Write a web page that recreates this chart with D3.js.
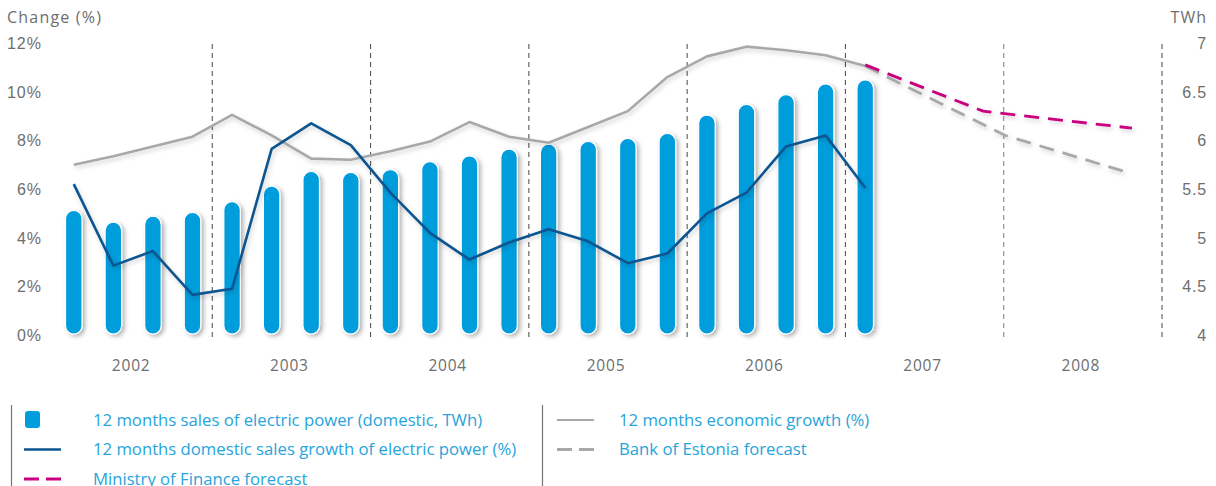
<!DOCTYPE html>
<html>
<head>
<meta charset="utf-8">
<script src="https://cdn.jsdelivr.net/npm/d3@7"></script>
<style>
  html, body { margin: 0; padding: 0; background: #fff; }
  svg { display: block; font-family: "Open Sans", "Noto Sans", sans-serif; }
</style>
</head>
<body>
<svg id="chart" width="1216" height="486"></svg>
<script>
// Quarterly observations, 2002 Q1 – 2007 Q1
const quarters = [
  "2002Q1","2002Q2","2002Q3","2002Q4",
  "2003Q1","2003Q2","2003Q3","2003Q4",
  "2004Q1","2004Q2","2004Q3","2004Q4",
  "2005Q1","2005Q2","2005Q3","2005Q4",
  "2006Q1","2006Q2","2006Q3","2006Q4",
  "2007Q1"
];
// 12 months sales of electric power, domestic (TWh)
const salesTWh = [
  5.28, 5.16, 5.22, 5.26,
  5.37, 5.53, 5.68, 5.67,
  5.70, 5.78, 5.84, 5.91,
  5.96, 5.99, 6.02, 6.07,
  6.26, 6.37, 6.47, 6.58,
  6.62
];
// 12 months domestic sales growth of electric power (%)
const salesGrowth = [
  6.2, 2.85, 3.45, 1.65,
  1.9, 7.65, 8.7, 7.8,
  5.85, 4.2, 3.1, 3.8,
  4.35, 3.85, 2.95, 3.35,
  5.0, 5.85, 7.75, 8.2,
  6.05
];
// 12 months economic growth (%)
const econGrowth = [
  7.0, 7.35, 7.75, 8.15,
  9.05, 8.2, 7.25, 7.2,
  7.55, 7.95, 8.75, 8.15,
  7.9, 8.55, 9.2, 10.6,
  11.45, 11.85, 11.7, 11.5,
  11.05
];
// Forecasts: [decimal year, %]
const financeForecast = [[2007.125, 11.1], [2007.87, 9.2], [2008.81, 8.5]];
const bankForecast = [[2007.125, 11.05], [2008.01, 8.2], [2008.8, 6.65]];

const years = [2002, 2003, 2004, 2005, 2006, 2007, 2008];
const pctTicks = [0, 2, 4, 6, 8, 10, 12];
const twhTicks = [4, 4.5, 5, 5.5, 6, 6.5, 7];

const legendLeft = [
  { label: "12 months sales of electric power (domestic, TWh)", type: "bar" },
  { label: "12 months domestic sales growth of electric power (%)", type: "line", color: "#0b5591" },
  { label: "Ministry of Finance forecast", type: "dash", color: "#c8007f" }
];
const legendRight = [
  { label: "12 months economic growth (%)", type: "line", color: "#a8a8a8" },
  { label: "Bank of Estonia forecast", type: "dash", color: "#a8a8a8" }
];

const svg = d3.select("#chart");
const textGray = "#6e6e6e";
const barBlue = "#009ddc";
const legendBlue = "#27a4dc";

// scales
const x = d3.scaleLinear().domain([2002, 2009]).range([54, 1162]);
const yPct = d3.scaleLinear().domain([0, 12]).range([335, 43]);
const yTWh = d3.scaleLinear().domain([4, 7]).range([335, 43]);
const qx = i => x(2002 + Math.floor(i / 4) + ((i % 4) + 0.5) / 4);

// soft shadow used on the plotted marks
const defs = svg.append("defs");
const f = defs.append("filter").attr("id", "shadow")
  .attr("x", "-30%").attr("y", "-10%").attr("width", "160%").attr("height", "130%");
f.append("feDropShadow").attr("dx", 2.5).attr("dy", 2).attr("stdDeviation", 2)
  .attr("flood-color", "#000").attr("flood-opacity", 0.3);
const fl = defs.append("filter").attr("id", "lshadow")
  .attr("x", "-5%").attr("y", "-20%").attr("width", "110%").attr("height", "140%");
fl.append("feDropShadow").attr("dx", 1.5).attr("dy", 2.5).attr("stdDeviation", 2)
  .attr("flood-color", "#000").attr("flood-opacity", 0.18);

// year separators
svg.append("g").selectAll("line")
  .data(years.slice(1).concat([2009]))
  .join("line")
  .attr("x1", d => x(d)).attr("x2", d => x(d))
  .attr("y1", 44).attr("y2", 338)
  .attr("stroke", d => d === 2008 ? "#8a8a8a" : "#555")
  .attr("stroke-width", 1.1)
  .attr("stroke-dasharray", "5,4");

// bars
const barW = 16.5;
svg.append("g").attr("filter", "url(#shadow)")
  .selectAll("rect")
  .data(salesTWh)
  .join("rect")
  .attr("x", (d, i) => qx(i) - barW / 2)
  .attr("width", barW)
  .attr("y", d => yTWh(d))
  .attr("height", d => yTWh(4) - 1 - yTWh(d))
  .attr("rx", barW / 2).attr("ry", barW / 2)
  .attr("fill", barBlue)
  .attr("stroke", "#fff").attr("stroke-width", 1.2);

// lines
const line = d3.line().x((d, i) => qx(i)).y(d => yPct(d));
const fline = d3.line().x(d => x(d[0])).y(d => yPct(d[1]));

const lines = svg.append("g").attr("filter", "url(#lshadow)");
lines.append("path").datum(econGrowth)
  .attr("d", line).attr("fill", "none")
  .attr("stroke", "#a8a8a8").attr("stroke-width", 2.6).attr("stroke-linejoin", "round");
lines.append("path").datum(bankForecast)
  .attr("d", fline).attr("fill", "none")
  .attr("stroke", "#a8a8a8").attr("stroke-width", 2.8)
  .attr("stroke-dasharray", "15,9");
lines.append("path").datum(financeForecast)
  .attr("d", fline).attr("fill", "none")
  .attr("stroke", "#c8007f").attr("stroke-width", 2.8)
  .attr("stroke-dasharray", "15,9");
lines.append("path").datum(salesGrowth)
  .attr("d", line).attr("fill", "none")
  .attr("stroke", "#0b5591").attr("stroke-width", 2.6).attr("stroke-linejoin", "round");

// left axis
const leftAxis = d3.axisLeft(yPct).tickValues(pctTicks).tickFormat(d => d + "%").tickSize(0).tickPadding(0);
const gl = svg.append("g").attr("transform", "translate(42,0)").call(leftAxis);
gl.select(".domain").remove();
gl.selectAll("text").attr("fill", textGray).style("font-size", "16px")
  .style("letter-spacing", "1px").attr("dy", "0.35em");

// right axis
const rightAxis = d3.axisRight(yTWh).tickValues(twhTicks).tickFormat(d3.format("")).tickSize(0).tickPadding(0);
const gr = svg.append("g").attr("transform", "translate(1207,0)").call(rightAxis);
gr.select(".domain").remove();
gr.selectAll("text").attr("fill", textGray).style("font-size", "16px")
  .style("letter-spacing", "0.8px").attr("text-anchor", "end").attr("dy", "0.35em");

// axis titles
svg.append("text").attr("x", 7).attr("y", 23).text("Change (%)")
  .attr("fill", textGray).style("font-size", "16px").style("letter-spacing", "1.2px");
svg.append("text").attr("x", 1207).attr("y", 23).text("TWh")
  .attr("text-anchor", "end").attr("fill", textGray).style("font-size", "16px")
  .style("letter-spacing", "1px");

// year labels
svg.append("g").selectAll("text")
  .data(years).join("text")
  .attr("x", d => x(d + 0.5) - 2).attr("y", 371)
  .attr("text-anchor", "middle")
  .attr("fill", textGray).style("font-size", "15.5px").style("letter-spacing", "0.8px")
  .text(d => d);

// legend
const lg = svg.append("g");
lg.append("line").attr("x1", 11.5).attr("x2", 11.5).attr("y1", 405).attr("y2", 486)
  .attr("stroke", "#777").attr("stroke-width", 1.2);
lg.append("line").attr("x1", 542.5).attr("x2", 542.5).attr("y1", 405).attr("y2", 486)
  .attr("stroke", "#777").attr("stroke-width", 1.2);

function drawLegend(items, symX, textX) {
  items.forEach((it, k) => {
    const cy = 420 + k * 29.5;
    if (it.type === "bar") {
      lg.append("rect").attr("x", symX + 1).attr("y", cy - 9).attr("width", 15).attr("height", 17)
        .attr("rx", 3).attr("fill", barBlue);
    } else if (it.type === "line") {
      lg.append("line").attr("x1", symX).attr("x2", symX + 37).attr("y1", cy).attr("y2", cy)
        .attr("stroke", it.color).attr("stroke-width", it.color === "#a8a8a8" ? 2 : 2.6);
    } else {
      lg.append("line").attr("x1", symX).attr("x2", symX + 37).attr("y1", cy).attr("y2", cy)
        .attr("stroke", it.color).attr("stroke-width", 2.8).attr("stroke-dasharray", "15,7");
    }
    lg.append("text").attr("x", textX).attr("y", cy).attr("dy", "0.35em")
      .attr("fill", legendBlue).style("font-size", "16.7px").text(it.label);
  });
}
drawLegend(legendLeft, 24, 93);
drawLegend(legendRight, 557, 619);
</script>
</body>
</html>
